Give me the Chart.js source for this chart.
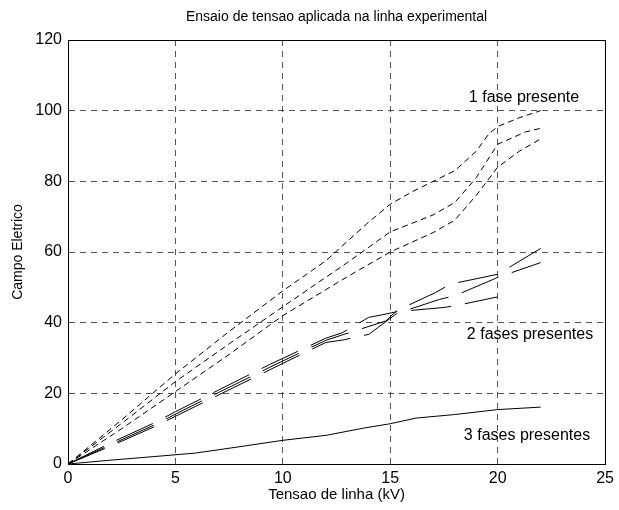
<!DOCTYPE html>
<html>
<head>
<meta charset="utf-8">
<script src="https://cdn.jsdelivr.net/npm/chart.js@4.4.1/dist/chart.umd.min.js"></script>
<style>
  body { margin: 0; background: #fff; }
  canvas { display: block; }
</style>
</head>
<body>
<canvas id="chart" width="619" height="510"></canvas>
<script>
// values
const xTicks = [0, 5, 10, 15, 20, 25];
const yTicks = [0, 20, 40, 60, 80, 100, 120];

// 1 fase presente (short dashes)
const x1a = [0, 2.5, 5, 7.5, 10, 12, 13, 14, 15, 16, 17, 18, 19, 19.6, 20, 21, 22];
const y1a = [0, 12.5, 25.5, 37.5, 49, 57.5, 63, 68.5, 73.5, 77, 80, 83, 88.5, 93.5, 95.5, 98, 100];
const x1b = [0, 2.5, 5, 7.5, 10, 13, 15, 17, 18, 19, 20, 21.3, 22];
const y1b = [0, 11.5, 23.3, 34, 44.5, 57, 65.7, 70.5, 74, 81, 90.5, 94, 95];
const x1c = [0, 2.5, 5, 7.5, 10, 13, 15, 17, 18, 19, 20, 21, 22];
const y1c = [0, 10, 20.5, 31, 42, 53, 60, 65.5, 69, 76, 84, 88.5, 92];

// 2 fases presentes (long dashes)
const x2a = [0, 2, 4, 5, 7, 9.4, 12, 12.75, 14, 14.6, 15.3, 17.5, 18.2, 20];
const y2a = [0, 6.0, 11.6, 14.8, 20.9, 28.2, 35.6, 37.1, 41.5, 42.2, 43.1, 44.3, 45, 47.3];
const x2b = [0, 2, 4, 5, 7, 9.4, 12, 12.8, 14, 14.8, 15.3, 17.3, 18, 20, 22];
const y2b = [0, 5.1, 10.5, 13.5, 19.5, 26.7, 34.4, 35.1, 36.7, 40.3, 42.6, 46.6, 47.6, 52.8, 57];
const x2c = [0, 2, 4, 5, 7, 9.4, 12, 12.75, 14.8, 15.3, 17.1, 17.8, 20, 22];
const y2c = [0, 5.5, 11, 14.1, 20.2, 27.4, 35, 36.5, 40.5, 43.4, 48.5, 50.9, 53.7, 61];

// 3 fases presentes (solid)
const x3 = [0, 2, 4, 5.95, 8, 10, 12, 13.8, 15, 16.2, 18, 20, 22];
const y3 = [0, 1.1, 2.1, 3.1, 4.9, 6.7, 8.1, 10.2, 11.4, 13.0, 14.0, 15.4, 16.1];

const labels = [
  { text: '1 fase presente', x: 524, y: 98 },
  { text: '2 fases presentes', x: 530, y: 335 },
  { text: '3 fases presentes', x: 527, y: 436 }
];

function pts(xs, ys) {
  return xs.map((x, i) => ({ x: x, y: ys[i] }));
}

function line(xs, ys, dash) {
  return {
    data: pts(xs, ys),
    borderColor: '#000',
    borderWidth: 1,
    borderDash: dash,
    pointRadius: 0,
    tension: 0,
    fill: false
  };
}

const shortDash = [6, 4];
const longDash = [40, 14];

const textPlugin = {
  id: 'texts',
  afterDraw(chart) {
    const ctx = chart.ctx;
    const a = chart.chartArea;
    ctx.save();
    // box top and right
    ctx.strokeStyle = '#000';
    ctx.lineWidth = 1;
    ctx.beginPath();
    ctx.moveTo(Math.round(a.left) + 0.5, Math.round(a.top) + 0.5);
    ctx.lineTo(Math.round(a.right) + 0.5, Math.round(a.top) + 0.5);
    ctx.lineTo(Math.round(a.right) + 0.5, Math.round(a.bottom) + 0.5);
    ctx.stroke();

    ctx.fillStyle = '#000';
    ctx.textAlign = 'center';
    ctx.textBaseline = 'middle';
    ctx.font = '14px "Liberation Sans", Arial, sans-serif';
    ctx.fillText('Ensaio de tensao aplicada na linha experimental', (a.left + a.right) / 2, 17);

    ctx.font = '15px "Liberation Sans", Arial, sans-serif';
    ctx.fillText('Tensao de linha (kV)', (a.left + a.right) / 2, 495);

    ctx.save();
    ctx.translate(18, (a.top + a.bottom) / 2);
    ctx.rotate(-Math.PI / 2);
    ctx.font = '14px "Liberation Sans", Arial, sans-serif';
    ctx.fillText('Campo Eletrico', 0, 0);
    ctx.restore();

    ctx.font = '16px "Liberation Sans", Arial, sans-serif';
    labels.forEach(l => ctx.fillText(l.text, l.x, l.y));
    ctx.restore();
  }
};

new Chart(document.getElementById('chart'), {
  type: 'line',
  data: {
    datasets: [
      line(x1a, y1a, shortDash),
      line(x1b, y1b, shortDash),
      line(x1c, y1c, shortDash),
      line(x2a, y2a, longDash),
      line(x2b, y2b, longDash),
      line(x2c, y2c, longDash),
      line(x3, y3, [])
    ]
  },
  options: {
    responsive: false,
    animation: false,
    devicePixelRatio: 1,
    layout: { padding: { top: 40, right: 5, left: 0, bottom: 0 } },
    plugins: { legend: { display: false }, tooltip: { enabled: false } },
    scales: {
      x: {
        type: 'linear',
        min: 0,
        max: 25,
        afterBuildTicks: s => { s.ticks = xTicks.map(v => ({ value: v })); },
        afterFit: s => { s.height = 46; },
        ticks: { color: '#000', padding: 5, font: { family: '"Liberation Sans", Arial, sans-serif', size: 16 } },
        grid: { color: '#555', drawTicks: false },
        border: { display: true, color: '#000', width: 1, dash: [6, 5] }
      },
      y: {
        type: 'linear',
        min: 0,
        max: 120,
        afterBuildTicks: s => { s.ticks = yTicks.map(v => ({ value: v })); },
        afterFit: s => { s.width = 68; },
        ticks: { color: '#000', padding: 6, font: { family: '"Liberation Sans", Arial, sans-serif', size: 16 } },
        grid: { color: '#555', drawTicks: false },
        border: { display: true, color: '#000', width: 1, dash: [6, 5] }
      }
    }
  },
  plugins: [textPlugin]
});
</script>
</body>
</html>
